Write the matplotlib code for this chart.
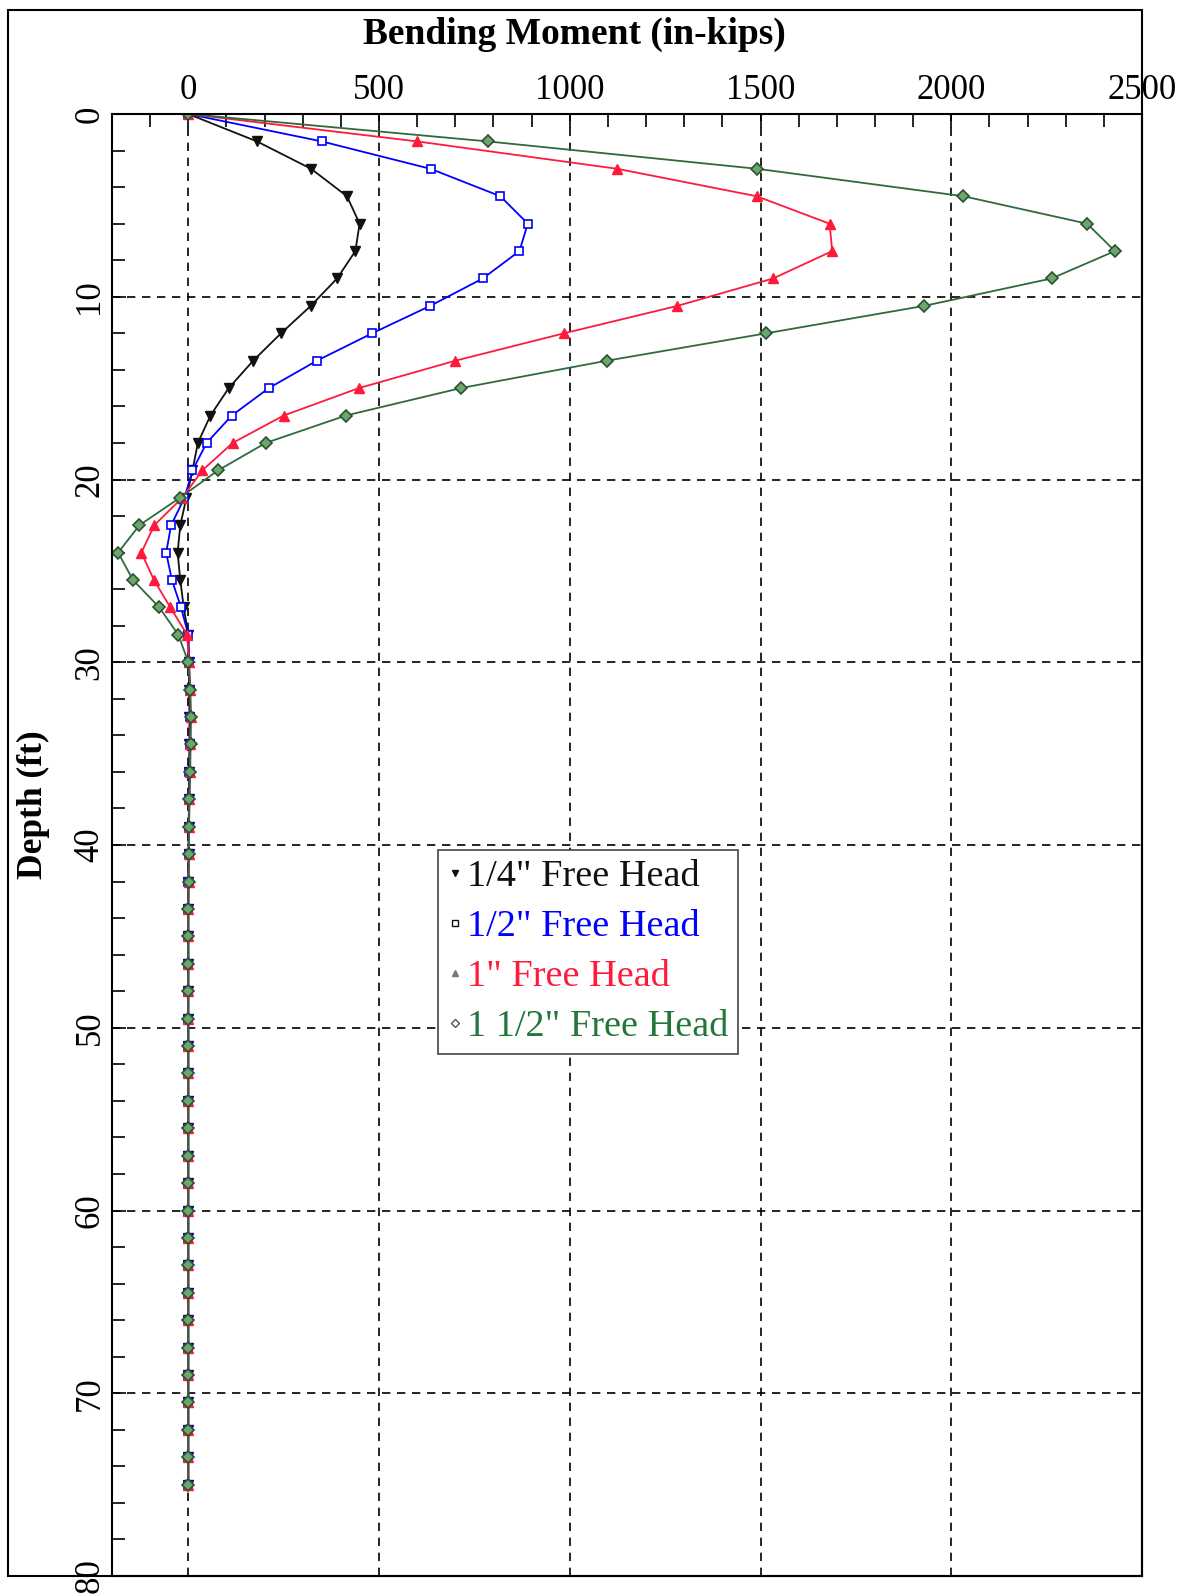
import matplotlib
matplotlib.use('Agg')
import matplotlib.pyplot as plt
import numpy as np
from matplotlib.lines import Line2D
from matplotlib.patches import Rectangle
from matplotlib.ticker import MultipleLocator

plt.rcParams['font.family'] = ['Liberation Serif', 'DejaVu Serif']

# Depth of each computed point (ft)
depth = [0, 1.5, 3, 4.5, 6, 7.5, 9, 10.5, 12, 13.5, 15, 16.5, 18, 19.5, 21,
         22.5, 24, 25.5, 27, 28.5, 30, 31.5, 33, 34.5, 36, 37.5, 39, 40.5,
         42, 43.5, 45, 46.5, 48, 49.5, 51, 52.5, 54, 55.5, 57, 58.5, 60,
         61.5, 63, 64.5, 66, 67.5, 69, 70.5, 72, 73.5, 75]

# Bending moment (in-kips) per load case
m_quarter = [0, 180, 322, 416, 449, 438, 390, 321, 243, 170, 106, 58, 25, 11,
             -5, -21, -28, -21, -12, 0, 1, 2, 3, 3, 2, 2, 1, 1, 0, 0, 0, 0, 0,
             0, 0, 0, 0, 0, 0, 0, 0, 0, 0, 0, 0, 0, 0, 0, 0, 0, 0]
m_half = [0, 350, 635, 818, 890, 868, 772, 634, 482, 337, 211, 114, 48, 11,
          -10, -45, -58, -43, -19, 0, 2, 4, 5, 4, 3, 2, 1, 1, 0, 0, 0, 0, 0,
          0, 0, 0, 0, 0, 0, 0, 0, 0, 0, 0, 0, 0, 0, 0, 0, 0, 0]
m_one = [0, 600, 1125, 1490, 1681, 1688, 1533, 1282, 985, 700, 447, 250, 116,
         37, -16, -89, -123, -90, -47, -3, 2, 5, 6, 5, 4, 3, 2, 1, 1, 0, 0, 0,
         0, 0, 0, 0, 0, 0, 0, 0, 0, 0, 0, 0, 0, 0, 0, 0, 0, 0, 0]
m_onehalf = [0, 785, 1492, 2032, 2356, 2429, 2263, 1929, 1515, 1097, 714, 413,
             203, 78, -22, -128, -184, -145, -76, -26, 0, 5, 7, 6, 5, 3, 2, 1,
             1, 0, 0, 0, 0, 0, 0, 0, 0, 0, 0, 0, 0, 0, 0, 0, 0, 0, 0, 0, 0, 0, 0]

labels = ['1/4" Free Head', '1/2" Free Head', '1" Free Head', '1 1/2" Free Head']
colors = ['#111111', '#0000ff', '#ff1a3c', '#23773a']

W, H = 1192, 1596
fig = plt.figure(figsize=(W / 100, H / 100), dpi=100)
L, R, T, B = 112, 1142, 114, 1576
ax = fig.add_axes([L / W, 1 - B / H, (R - L) / W, (B - T) / H])

ax.plot(m_quarter, depth, '-', color=colors[0], lw=1.3, marker='v', ms=7,
        mfc=colors[0], mec=colors[0])
ax.plot(m_half, depth, '-', color=colors[1], lw=1.3, marker='s', ms=6,
        mfc='white', mec=colors[1], mew=1.2)
ax.plot(m_one, depth, '-', color=colors[2], lw=1.3, marker='^', ms=7,
        mfc=colors[2], mec=colors[2])
ax.plot(m_onehalf, depth, '-', color='#2f6a3c', lw=1.3, marker='D', ms=6,
        mfc='#6aa86a', mec='#2f4f35', mew=1.2)

ax.set_xlim(-200, 2500)
ax.set_ylim(80, 0)
ax.xaxis.tick_top()
ax.set_xticks([0, 500, 1000, 1500, 2000, 2500])
ax.xaxis.set_minor_locator(MultipleLocator(100))
ax.set_yticks(range(0, 81, 10))
ax.yaxis.set_minor_locator(MultipleLocator(2))
ax.tick_params(which='both', direction='in', top=True, bottom=False,
               left=True, right=False, width=1.2, labelsize=25, colors='k')
ax.tick_params(which='major', length=10)
ax.tick_params(which='minor', length=9)
ax.tick_params(axis='x', pad=5)
ax.tick_params(axis='y', pad=4)
for t in ax.get_yticklabels():
    t.set_rotation(90)
    t.set_va('center')

ax.grid(True, which='major', color='k', linestyle=(0, (5, 4)), lw=1.2)
for s in ax.spines.values():
    s.set_linewidth(1.5)

fig.text(574 / W, 1 - 34 / H, 'Bending Moment (in-kips)', ha='center',
         va='center', fontsize=27, weight='bold')
fig.text(33 / W, 1 - 805 / H, 'Depth (ft)', ha='center', va='center',
         rotation=90, fontsize=25.5, weight='bold')

# outer frame around the whole picture
fig.add_artist(Rectangle((8 / W, 1 - B / H), (R - 8) / W, (B - 10) / H,
                         transform=fig.transFigure, fill=False, lw=1.5,
                         ec='k'))

handles = [
    Line2D([], [], ls='none', marker='v', ms=4, mfc=colors[0], mec=colors[0]),
    Line2D([], [], ls='none', marker='s', ms=4, mfc='white', mec=colors[0]),
    Line2D([], [], ls='none', marker='^', ms=4, mfc='#777777', mec='#777777'),
    Line2D([], [], ls='none', marker='D', ms=4, mfc='white', mec='#555555'),
]
leg = ax.legend(handles, labels, loc='upper left',
                bbox_to_anchor=(438 / W, 1 - 850 / H),
                bbox_transform=fig.transFigure, borderaxespad=0,
                fontsize=27.5, fancybox=False, edgecolor='#444444',
                framealpha=1, handlelength=0.4, handletextpad=0.1,
                borderpad=0.25, labelspacing=0.4)
leg.get_frame().set_linewidth(1.2)
for txt, c in zip(leg.get_texts(), colors):
    txt.set_color(c)

fig.savefig('out.png', dpi=100)
